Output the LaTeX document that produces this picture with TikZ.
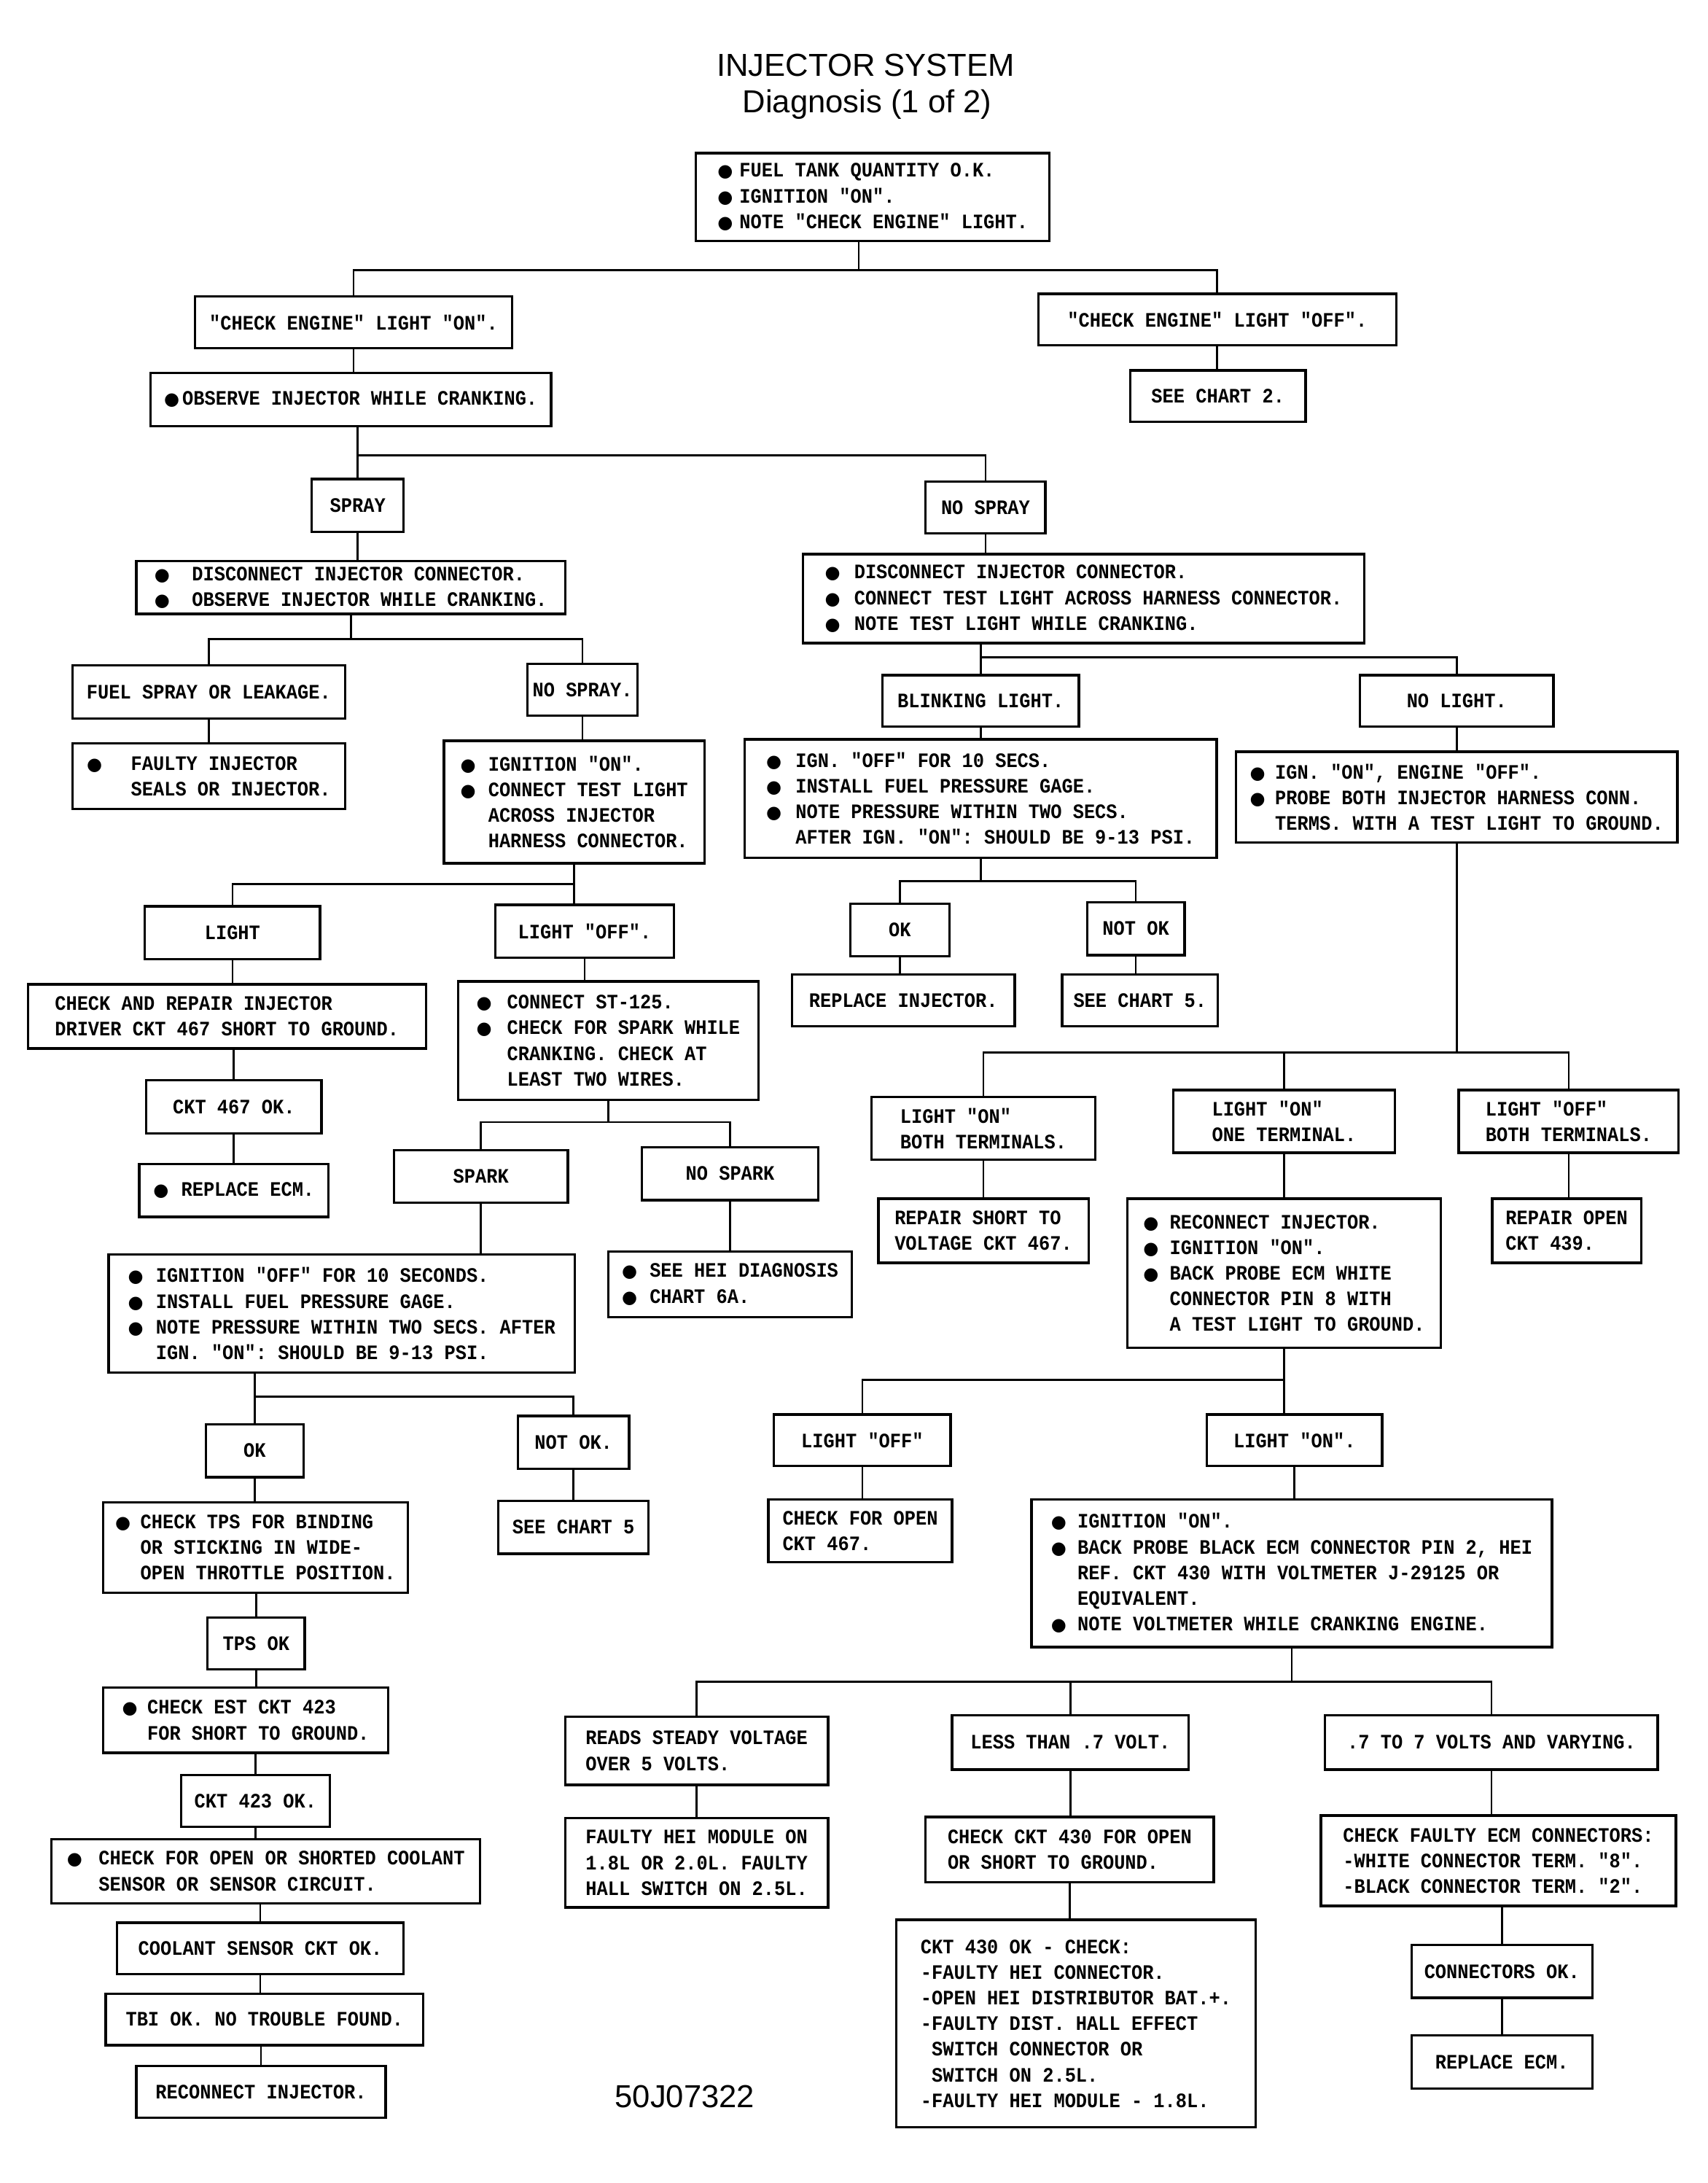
\documentclass[tikz,border=0pt]{standalone}
\usepackage{fontspec}
\newfontfamily\boxfont[FakeStretch=0.9]{Liberation Mono}
\newfontfamily\titlefont{Liberation Sans}
\newfontfamily\symfont{DejaVu Sans}
\newcommand\bul[1][11.4pt]{\makebox[#1][l]{\symfont\fontsize{7.2}{8}\selectfont ●}}
\newcommand\ind[1][11.4pt]{\hspace*{#1}}

\begin{document}
\frenchspacing
\begin{tikzpicture}[x=0.02cm,y=-0.02cm,
  box/.style={draw,line width=1pt,font=\boxfont\bfseries\fontsize{8.4}{10.5}\selectfont,align=left,inner sep=2pt},
  sz/.style 2 args={minimum width=#1*0.02cm,minimum height=#2*0.02cm},
  link/.style={line width=0.8pt},
  title/.style={font=\titlefont\fontsize{13}{15.5}\selectfont}]
  \path[use as bounding box,fill=white] (0,0) rectangle (1227,1568);

  \node[title] (ttl) at (622,47) {INJECTOR SYSTEM};
  \node[title] (sub) at (623,75) {Diagnosis (1 of 2)};
  \node[title] (code) at (492,1506) {50J07322};

  % top of the chart
  \node[box,sz={254}{63}] (start) at (627,141.5) {\bul[9pt]FUEL TANK QUANTITY O.K.\\\bul[9pt]IGNITION "ON".\\\bul[9pt]NOTE "CHECK ENGINE" LIGHT.};
  \node[box,sz={228}{37}] (ceon) at (254,231.5) {"CHECK ENGINE" LIGHT "ON".};
  \node[box,sz={257}{37}] (ceoff) at (874.5,229.5) {"CHECK ENGINE" LIGHT "OFF".};
  \node[box,sz={126}{37}] (chart2) at (875,284.5) {SEE CHART 2.};
  \node[box,sz={288}{38}] (observe) at (252,287) {\bul[7.5pt]OBSERVE INJECTOR WHILE CRANKING.};
  \node[box,sz={66}{38}] (spray) at (257,363) {SPRAY};
  \node[box,sz={86}{37}] (nospray) at (708,364.5) {NO SPRAY};

  % spray side
  \node[box,sz={308}{38}] (discA) at (252,422) {\bul[15.4pt]DISCONNECT INJECTOR CONNECTOR.\\\bul[15.4pt]OBSERVE INJECTOR WHILE CRANKING.};
  \node[box,sz={196}{38}] (leak) at (150,497) {FUEL SPRAY OR LEAKAGE.};
  \node[box,sz={79}{37}] (nospray2) at (418.5,495.5) {NO SPRAY.};
  \node[box,sz={196}{47}] (faulty) at (150,557.5) {\bul[18pt]FAULTY INJECTOR\\\ind[18pt]SEALS OR INJECTOR.};
  \node[box,sz={187}{88}] (ignA) at (412.5,576) {\bul IGNITION "ON".\\\bul CONNECT TEST LIGHT\\\ind ACROSS INJECTOR\\\ind HARNESS CONNECTOR.};
  \node[box,sz={126}{38}] (light) at (167,670) {LIGHT};
  \node[box,sz={128}{38}] (lightoff) at (420,669) {LIGHT "OFF".};
  \node[box,sz={286}{46}] (repair) at (163,730) {CHECK AND REPAIR INJECTOR\\DRIVER CKT 467 SHORT TO GROUND.};
  \node[box,sz={216}{85}] (st) at (437,747.5) {\bul[12.5pt]CONNECT ST-125.\\\bul[12.5pt]CHECK FOR SPARK WHILE\\\ind[12.5pt]CRANKING. CHECK AT\\\ind[12.5pt]LEAST TWO WIRES.};
  \node[box,sz={126}{38}] (ckt467) at (168,795) {CKT 467 OK.};
  \node[box,sz={136}{38}] (ecmA) at (168,855) {\bul REPLACE ECM.};
  \node[box,sz={125}{38}] (spark) at (345.5,845) {SPARK};
  \node[box,sz={127}{38}] (nospark) at (524.5,843) {NO SPARK};
  \node[box,sz={335}{85}] (ignD) at (245.5,943.5) {\bul IGNITION "OFF" FOR 10 SECONDS.\\\bul INSTALL FUEL PRESSURE GAGE.\\\bul NOTE PRESSURE WITHIN TWO SECS. AFTER\\\ind IGN. "ON": SHOULD BE 9-13 PSI.};
  \node[box,sz={175}{47}] (hei) at (524.5,922.5) {\bul SEE HEI DIAGNOSIS\\\bul CHART 6A.};
  \node[box,sz={70}{38}] (okA) at (183,1042) {OK};
  \node[box,sz={80}{38}] (notokA) at (412,1036) {NOT OK.};
  \node[box,sz={219}{65}] (tps) at (183.5,1111.5) {\bul[10.3pt]CHECK TPS FOR BINDING\\\ind[10.3pt]OR STICKING IN WIDE-\\\ind[10.3pt]OPEN THROTTLE POSITION.};
  \node[box,sz={108}{38}] (chart5A) at (412,1097) {SEE CHART 5};
  \node[box,sz={70}{37}] (tpsok) at (184,1180.5) {TPS OK};
  \node[box,sz={205}{47}] (est) at (176.5,1235.5) {\bul[10.3pt]CHECK EST CKT 423\\\ind[10.3pt]FOR SHORT TO GROUND.};
  \node[box,sz={107}{37}] (ckt423) at (183.5,1293.5) {CKT 423 OK.};
  \node[box,sz={308}{46}] (coolant) at (191,1344) {\bul[13pt]CHECK FOR OPEN OR SHORTED COOLANT\\\ind[13pt]SENSOR OR SENSOR CIRCUIT.};
  \node[box,sz={206}{37}] (coolok) at (187,1399.5) {COOLANT SENSOR CKT OK.};
  \node[box,sz={228}{37}] (tbi) at (190,1450.5) {TBI OK. NO TROUBLE FOUND.};
  \node[box,sz={179}{37}] (reconA) at (187.5,1502.5) {RECONNECT INJECTOR.};

  % no spray side
  \node[box,sz={403}{64}] (discB) at (778.5,430) {\bul[12pt]DISCONNECT INJECTOR CONNECTOR.\\\bul[12pt]CONNECT TEST LIGHT ACROSS HARNESS CONNECTOR.\\\bul[12pt]NOTE TEST LIGHT WHILE CRANKING.};
  \node[box,sz={141}{37}] (blink) at (704.5,503.5) {BLINKING LIGHT.};
  \node[box,sz={139}{37}] (nolight) at (1046.5,503.5) {NO LIGHT.};
  \node[box,sz={339}{85}] (ignB) at (704.5,573.5) {\bul[12pt]IGN. "OFF" FOR 10 SECS.\\\bul[12pt]INSTALL FUEL PRESSURE GAGE.\\\bul[12pt]NOTE PRESSURE WITHIN TWO SECS.\\\ind[12pt]AFTER IGN. "ON": SHOULD BE 9-13 PSI.};
  \node[box,sz={317}{65}] (ignC) at (1046.5,572.5) {\bul[10.3pt]IGN. "ON", ENGINE "OFF".\\\bul[10.3pt]PROBE BOTH INJECTOR HARNESS CONN.\\\ind[10.3pt]TERMS. WITH A TEST LIGHT TO GROUND.};
  \node[box,sz={71}{38}] (okB) at (646.5,668) {OK};
  \node[box,sz={70}{38}] (notokB) at (816,667) {NOT OK};
  \node[box,sz={160}{37}] (replinj) at (649,718.5) {REPLACE INJECTOR.};
  \node[box,sz={112}{37}] (chart5B) at (819,718.5) {SEE CHART 5.};
  \node[box,sz={161}{45}] (onboth) at (706.5,810.5) {LIGHT "ON"\\BOTH TERMINALS.};
  \node[box,sz={159}{45}] (onone) at (922.5,805.5) {LIGHT "ON"\\ONE TERMINAL.};
  \node[box,sz={158}{45}] (offboth) at (1127,805.5) {LIGHT "OFF"\\BOTH TERMINALS.};
  \node[box,sz={151}{46}] (shortv) at (706.5,884) {REPAIR SHORT TO\\VOLTAGE CKT 467.};
  \node[box,sz={225}{107}] (reconB) at (922.5,914.5) {\bul[10.8pt]RECONNECT INJECTOR.\\\bul[10.8pt]IGNITION "ON".\\\bul[10.8pt]BACK PROBE ECM WHITE\\\ind[10.8pt]CONNECTOR PIN 8 WITH\\\ind[10.8pt]A TEST LIGHT TO GROUND.};
  \node[box,sz={107}{46}] (open439) at (1125.5,884) {REPAIR OPEN\\CKT 439.};
  \node[box,sz={127}{37}] (offC) at (619.5,1034.5) {LIGHT "OFF"};
  \node[box,sz={126}{37}] (onC) at (930,1034.5) {LIGHT "ON".};
  \node[box,sz={132}{45}] (open467) at (618,1099.5) {CHECK FOR OPEN\\CKT 467.};
  \node[box,sz={374}{106}] (ignE) at (928,1130) {\bul[10.8pt]IGNITION "ON".\\\bul[10.8pt]BACK PROBE BLACK ECM CONNECTOR PIN 2, HEI\\\ind[10.8pt]REF. CKT 430 WITH VOLTMETER J-29125 OR\\\ind[10.8pt]EQUIVALENT.\\\bul[10.8pt]NOTE VOLTMETER WHILE CRANKING ENGINE.};
  \node[box,sz={189}{49}] (steady) at (500.5,1257.5) {READS STEADY VOLTAGE\\OVER 5 VOLTS.};
  \node[box,sz={170}{39}] (less) at (769,1251.5) {LESS THAN .7 VOLT.};
  \node[box,sz={239}{39}] (vary) at (1071.5,1251.5) {.7 TO 7 VOLTS AND VARYING.};
  \node[box,sz={189}{64}] (heimod) at (500.5,1338) {FAULTY HEI MODULE ON\\1.8L OR 2.0L. FAULTY\\HALL SWITCH ON 2.5L.};
  \node[box,sz={207}{47}] (ckt430) at (768.5,1328.5) {CHECK CKT 430 FOR OPEN\\OR SHORT TO GROUND.};
  \node[box,sz={255}{65}] (ecmconn) at (1076.5,1336.5) {CHECK FAULTY ECM CONNECTORS:\\-WHITE CONNECTOR TERM. "8".\\-BLACK CONNECTOR TERM. "2".};
  \node[box,sz={258}{149}] (ckt430ok) at (773,1453.5) {CKT 430 OK - CHECK:\\-FAULTY HEI CONNECTOR.\\-OPEN HEI DISTRIBUTOR BAT.+.\\-FAULTY DIST. HALL EFFECT\\\hphantom{-}SWITCH CONNECTOR OR\\\hphantom{-}SWITCH ON 2.5L.\\-FAULTY HEI MODULE - 1.8L.};
  \node[box,sz={130}{38}] (connok) at (1079,1416) {CONNECTORS OK.};
  \node[box,sz={130}{38}] (ecmB) at (1079,1481) {REPLACE ECM.};

  % connectors, top
  \draw[link] (start.south -| 617,0) -- (617,194);
  \draw[link] (ceon.north) |- (ceoff.north |- 0,194) -- (ceoff.north);
  \draw[link] (ceon.south) -- (ceon.south |- observe.north);
  \draw[link] (ceoff.south) -- (ceoff.south |- chart2.north);
  \draw[link] (spray.north |- observe.south) -- (spray.north);
  \draw[link] (spray.north |- 0,327) -| (nospray.north);
  \draw[link] (spray.south) -- (spray.south |- discA.north);
  \draw[link] (nospray.south) -- (nospray.south |- discB.north);

  % connectors, spray side
  \draw[link] (discA.south) -- (discA.south |- 0,459);
  \draw[link] (leak.north) |- (nospray2.north |- 0,459) -- (nospray2.north);
  \draw[link] (leak.south) -- (leak.south |- faulty.north);
  \draw[link] (nospray2.south) -- (nospray2.south |- ignA.north);
  \draw[link] (ignA.south) -- (ignA.south |- lightoff.north);
  \draw[link] (ignA.south |- 0,635) -| (light.north);
  \draw[link] (light.south) -- (light.south |- repair.north);
  \draw[link] (ckt467.north |- repair.south) -- (ckt467.north);
  \draw[link] (ecmA.north |- ckt467.south) -- (ecmA.north);
  \draw[link] (lightoff.south) -- (lightoff.south |- st.north);
  \draw[link] (st.south) -- (st.south |- 0,806);
  \draw[link] (spark.north) |- (nospark.north |- 0,806) -- (nospark.north);
  \draw[link] (spark.south) -- (spark.south |- ignD.north);
  \draw[link] (nospark.south) -- (nospark.south |- hei.north);
  \draw[link] (okA.north |- ignD.south) -- (okA.north);
  \draw[link] (okA.north |- 0,1003) -| (notokA.north);
  \draw[link] (okA.south) -- (okA.south |- tps.north);
  \draw[link] (notokA.south) -- (notokA.south |- chart5A.north);
  \draw[link] (tpsok.north |- tps.south) -- (tpsok.north);
  \draw[link] (tpsok.south) -- (tpsok.south |- est.north);
  \draw[link] (ckt423.north |- est.south) -- (ckt423.north);
  \draw[link] (ckt423.south) -- (ckt423.south |- coolant.north);
  \draw[link] (coolok.north |- coolant.south) -- (coolok.north);
  \draw[link] (coolok.south) -- (coolok.south |- tbi.north);
  \draw[link] (reconA.north |- tbi.south) -- (reconA.north);

  % connectors, no spray side
  \draw[link] (blink.north |- discB.south) -- (blink.north);
  \draw[link] (blink.north |- 0,472) -| (nolight.north);
  \draw[link] (blink.south) -- (blink.south |- ignB.north);
  \draw[link] (nolight.south) -- (nolight.south |- ignC.north);
  \draw[link] (ignB.south) -- (ignB.south |- 0,633);
  \draw[link] (okB.north) |- (notokB.north |- 0,633) -- (notokB.north);
  \draw[link] (okB.south) -- (okB.south |- replinj.north);
  \draw[link] (notokB.south) -- (notokB.south |- chart5B.north);
  \draw[link] (ignC.south) -- (ignC.south |- 0,756);
  \draw[link] (onboth.north) |- (offboth.north |- 0,756) -- (offboth.north);
  \draw[link] (onone.north) -- (onone.north |- 0,756);
  \draw[link] (onboth.south) -- (onboth.south |- shortv.north);
  \draw[link] (onone.south) -- (onone.south |- reconB.north);
  \draw[link] (offboth.south) -- (offboth.south |- open439.north);
  \draw[link] (reconB.south) -- (reconB.south |- onC.north);
  \draw[link] (reconB.south |- 0,991) -| (offC.north);
  \draw[link] (offC.south) -- (offC.south |- open467.north);
  \draw[link] (onC.south) -- (onC.south |- ignE.north);
  \draw[link] (ignE.south) -- (ignE.south |- 0,1208);
  \draw[link] (steady.north) |- (vary.north |- 0,1208) -- (vary.north);
  \draw[link] (less.north) -- (less.north |- 0,1208);
  \draw[link] (steady.south) -- (steady.south |- heimod.north);
  \draw[link] (less.south) -- (less.south |- ckt430.north);
  \draw[link] (ckt430.south) -- (ckt430.south |- ckt430ok.north);
  \draw[link] (vary.south) -- (vary.south |- ecmconn.north);
  \draw[link] (connok.north |- ecmconn.south) -- (connok.north);
  \draw[link] (connok.south) -- (connok.south |- ecmB.north);
\end{tikzpicture}
\end{document}
